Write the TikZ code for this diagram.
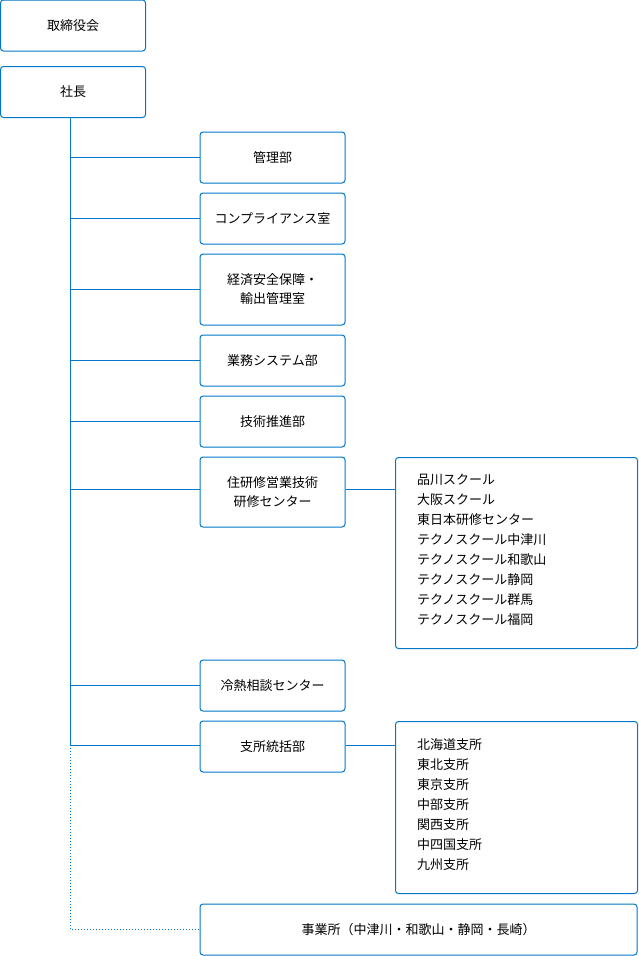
\documentclass[tikz,border=0pt]{standalone}
\usepackage{fontspec}
\setmainfont{Noto Sans CJK JP}
\usetikzlibrary{positioning}
\definecolor{orgblue}{HTML}{0077C8}
\tikzset{
  unit/.style={draw=orgblue, line width=1pt, rounded corners=3pt, minimum width=145pt, minimum height=51pt, align=center, font=\fontsize{13}{19}\selectfont, inner sep=0pt},
  listbox/.style={draw=orgblue, line width=1pt, rounded corners=3pt, minimum width=242pt, align=left, font=\fontsize{13}{20}\selectfont, anchor=north west, inner sep=0pt, text width=220pt},
  link/.style={draw=orgblue, line width=1pt}
}
\begin{document}
\begin{tikzpicture}[x=1pt,y=-1pt]
\useasboundingbox (0,0) rectangle (638,956);
\node[unit] (board) at (73,25.5) {取締役会};
\node[unit] (pres) at (73,92) {社長};
\node[unit] (admin) at (272.5,157.5) {管理部};
\node[unit] (comp) at (272.5,218.5) {コンプライアンス室};
\node[unit, minimum height=71pt] (secur) at (272.5,289.5) {経済安全保障・\\輸出管理室};
\node[unit] (sys) at (272.5,360.5) {業務システム部};
\node[unit] (tech) at (272.5,421.5) {技術推進部};
\node[unit, minimum height=70pt] (train) at (272.5,492) {住研修営業技術\\研修センター};
\node[unit] (cool) at (272.5,685.5) {冷熱相談センター};
\node[unit] (branch) at (272.5,746.5) {支所統括部};
\node[unit, minimum width=437pt] (office) at (418.5,929.5) {事業所（中津川・和歌山・静岡・長崎）};
\node[listbox, minimum height=191pt] (schools) at (395,457) {};
\node[font=\fontsize{13}{20}\selectfont, align=left, anchor=north west, inner sep=0pt] (schooltxt) at (417,474) {品川スクール\\大阪スクール\\東日本研修センター\\テクノスクール中津川\\テクノスクール和歌山\\テクノスクール静岡\\テクノスクール群馬\\テクノスクール福岡};
\node[listbox, minimum height=172pt] (branches) at (395,721) {};
\node[font=\fontsize{13}{20}\selectfont, align=left, anchor=north west, inner sep=0pt] (branchtxt) at (417,738) {北海道支所\\東北支所\\東京支所\\中部支所\\関西支所\\中四国支所\\九州支所};
\coordinate (trunk) at (70,745);
\draw[link] (pres.south -| trunk) -- (trunk);
\draw[link, dotted] (trunk) -- (trunk |- office.west) -- (office.west);
\foreach \n in {admin,comp,secur,sys,tech,cool}
  \draw[link] (\n.west -| trunk) -- (\n.west);
\draw[link] (trunk |- train.west) ++(0,-3) -- ([yshift=3pt]train.west);
\draw[link] (trunk) -- (trunk -| branch.west);
\draw[link] ([yshift=3pt]train.east) -- ([yshift=3pt]train.east -| schools.west);
\draw[link] (branch.east |- trunk) -- (trunk -| branches.west);
\end{tikzpicture}
\end{document}
